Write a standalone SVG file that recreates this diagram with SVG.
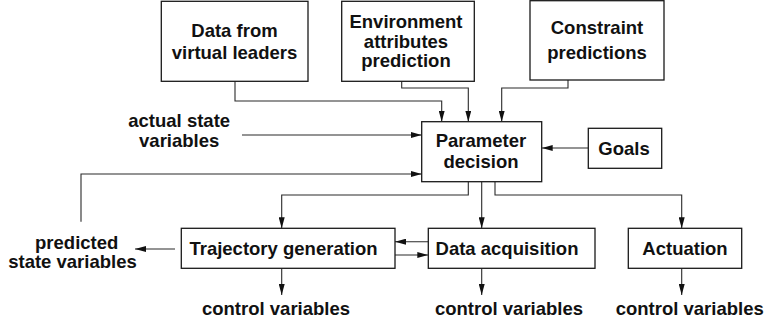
<svg xmlns="http://www.w3.org/2000/svg" width="765" height="323" viewBox="0 0 765 323">
  <style>
    .box { fill: #ffffff; stroke: #1a1a1a; stroke-width: 1.3; }
    .lbl { font-family: "Liberation Sans", Arial, sans-serif; font-weight: bold; font-size: 18.5px; fill: #111111; text-anchor: middle; }
    .wire { fill: none; stroke: #2a2a2a; stroke-width: 1.1; }
  </style>
  <defs>
    <marker id="head" viewBox="0 0 11 6" refX="11" refY="3" markerWidth="11" markerHeight="6" markerUnits="userSpaceOnUse" orient="auto">
      <path d="M0,0 L11,3 L0,6 z" fill="#111111"/>
    </marker>
  </defs>

  <rect width="765" height="323" fill="#ffffff"/>

  <!-- connectors -->
  <g id="connectors" class="wire">
    <polyline points="235,81 235,101 441.7,101 441.7,121.7" marker-end="url(#head)"/>
    <polyline points="401.7,81 401.7,88 468.3,88 468.3,121.7" marker-end="url(#head)"/>
    <polyline points="568,80 568,88 501.7,88 501.7,121.7" marker-end="url(#head)"/>
    <line x1="242" y1="135" x2="421.7" y2="135" marker-end="url(#head)"/>
    <polyline points="81,221.7 81,174 421.7,174" marker-end="url(#head)"/>
    <line x1="588.3" y1="148" x2="541.7" y2="148" marker-end="url(#head)"/>
    <polyline points="468.3,181.7 468.3,195 281.7,195 281.7,228.3" marker-end="url(#head)"/>
    <line x1="481.7" y1="181.7" x2="481.7" y2="228.3" marker-end="url(#head)"/>
    <polyline points="495,181.7 495,195 681.7,195 681.7,228.3" marker-end="url(#head)"/>
    <line x1="428.3" y1="241.7" x2="395" y2="241.7" marker-end="url(#head)"/>
    <line x1="395" y1="255" x2="428.3" y2="255" marker-end="url(#head)"/>
    <line x1="175" y1="249" x2="135" y2="249" marker-end="url(#head)"/>
    <line x1="281.7" y1="268.3" x2="281.7" y2="295" marker-end="url(#head)"/>
    <line x1="481.7" y1="268.3" x2="481.7" y2="295" marker-end="url(#head)"/>
    <line x1="681.7" y1="268.3" x2="681.7" y2="295" marker-end="url(#head)"/>
  </g>

  <!-- nodes -->
  <g id="leaders">
    <rect class="box" x="161.3" y="1.3" width="146.7" height="80"/>
    <text class="lbl" x="234.5" y="36.5">Data from</text>
    <text class="lbl" x="234.5" y="59">virtual leaders</text>
  </g>
  <g id="environment">
    <rect class="box" x="341.7" y="1.3" width="132.6" height="80"/>
    <text class="lbl" x="406" y="28.3">Environment</text>
    <text class="lbl" x="406" y="48">attributes</text>
    <text class="lbl" x="406" y="67">prediction</text>
  </g>
  <g id="constraints">
    <rect class="box" x="530" y="0.7" width="134" height="79.3"/>
    <text class="lbl" x="597" y="34.3">Constraint</text>
    <text class="lbl" x="597" y="59.3">predictions</text>
  </g>
  <g id="parameter">
    <rect class="box" x="421.7" y="121.7" width="120" height="60"/>
    <text class="lbl" x="481" y="147.3">Parameter</text>
    <text class="lbl" x="481" y="167.7">decision</text>
  </g>
  <g id="goals">
    <rect class="box" x="588.3" y="128.3" width="73.4" height="40"/>
    <text class="lbl" x="624" y="154.5">Goals</text>
  </g>
  <g id="trajectory">
    <rect class="box" x="181.3" y="228.3" width="213.7" height="40"/>
    <text class="lbl" x="283.5" y="255">Trajectory generation</text>
  </g>
  <g id="acquisition">
    <rect class="box" x="428.3" y="228.3" width="166.7" height="40"/>
    <text class="lbl" x="507" y="255">Data acquisition</text>
  </g>
  <g id="actuation">
    <rect class="box" x="628.3" y="228.3" width="113.4" height="40"/>
    <text class="lbl" x="685" y="255">Actuation</text>
  </g>

  <!-- free labels -->
  <g id="actual-state">
    <text class="lbl" x="179.2" y="127.3">actual state</text>
    <text class="lbl" x="179.2" y="146.7">variables</text>
  </g>
  <g id="predicted-state">
    <text class="lbl" x="76.7" y="248.5">predicted</text>
    <text class="lbl" x="72.5" y="268.3">state variables</text>
  </g>
  <g id="outputs">
    <text class="lbl" x="276" y="315">control variables</text>
    <text class="lbl" x="509" y="315">control variables</text>
    <text class="lbl" x="689.7" y="315">control variables</text>
  </g>
</svg>
